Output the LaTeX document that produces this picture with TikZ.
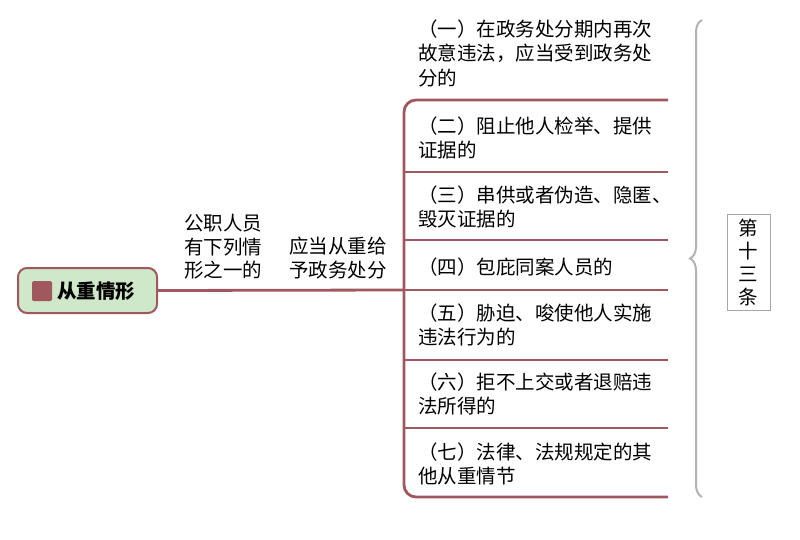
\documentclass[tikz,border=0pt]{standalone}
\usepackage{fontspec}
\newfontfamily\cjk{Noto Sans CJK SC}
\usetikzlibrary{decorations.pathreplacing}
\definecolor{maroon}{HTML}{A0575D}
\definecolor{leaf}{HTML}{CFE8C9}
\tikzset{
 br/.style={draw=maroon,line width=2.8pt},
 item/.style={anchor=west,align=left,inner sep=0pt,font=\cjk\fontsize{19.5}{24.5}\selectfont},
 lab/.style={align=left,inner sep=0pt,font=\cjk\fontsize{19.5}{23.5}\selectfont},
}
\begin{document}
\begin{tikzpicture}[x=1pt,y=-1pt]
\useasboundingbox (0,0) rectangle (800,540);
\node[draw=maroon,line width=2pt,fill=leaf,rounded corners=9pt,minimum width=139pt,minimum height=45pt,inner sep=0pt] (root) at (87.5,290.5) {};
\node[fill=maroon,rounded corners=1.5pt,minimum size=20pt,inner sep=0pt] (icon) at (42,291) {};
\node[anchor=west,inner sep=0pt,font=\cjk\bfseries\fontsize{19.5}{20}\selectfont] (rt) at (57,291) {从重情形};
\coordinate (j) at (404,290);
\draw[br] (root.east) -- (j);
\draw[br,rounded corners=12pt] (668,100) coordinate (t) -- (404,100) -- (404,497) -- (668,497) coordinate (b);
\foreach \y/\n in {172/a,240/c,290/d,360/e,428/f}{\draw[br] (404,\y) -- (668,\y);}
\node[lab] (l1) at (223,247) {公职人员\\有下列情\\形之一的};
\node[lab] (l2) at (338,258) {应当从重给\\予政务处分};
\node[item] (i1) at (418,53) {（一）在政务处分期内再次\\故意违法，应当受到政务处\\分的};
\node[item] (i2) at (418,138) {（二）阻止他人检举、提供\\证据的};
\node[item] (i3) at (418,207) {（三）串供或者伪造、隐匿、\\毁灭证据的};
\node[item] (i4) at (418,267) {（四）包庇同案人员的};
\node[item] (i5) at (418,325) {（五）胁迫、唆使他人实施\\违法行为的};
\node[item] (i6) at (418,394) {（六）拒不上交或者退赔违\\法所得的};
\node[item] (i7) at (418,464) {（七）法律、法规规定的其\\他从重情节};
\draw[gray!60,line width=2pt,decorate,decoration={brace,amplitude=12pt,aspect=0.5}] (702,497) -- (702,20);
\node[draw=gray!70,line width=1pt,minimum width=43pt,minimum height=96pt,inner sep=0pt,align=center,font=\cjk\fontsize{19.5}{23}\selectfont] (art) at (748.5,262.5) {第\\十\\三\\条};
\end{tikzpicture}
\end{document}
